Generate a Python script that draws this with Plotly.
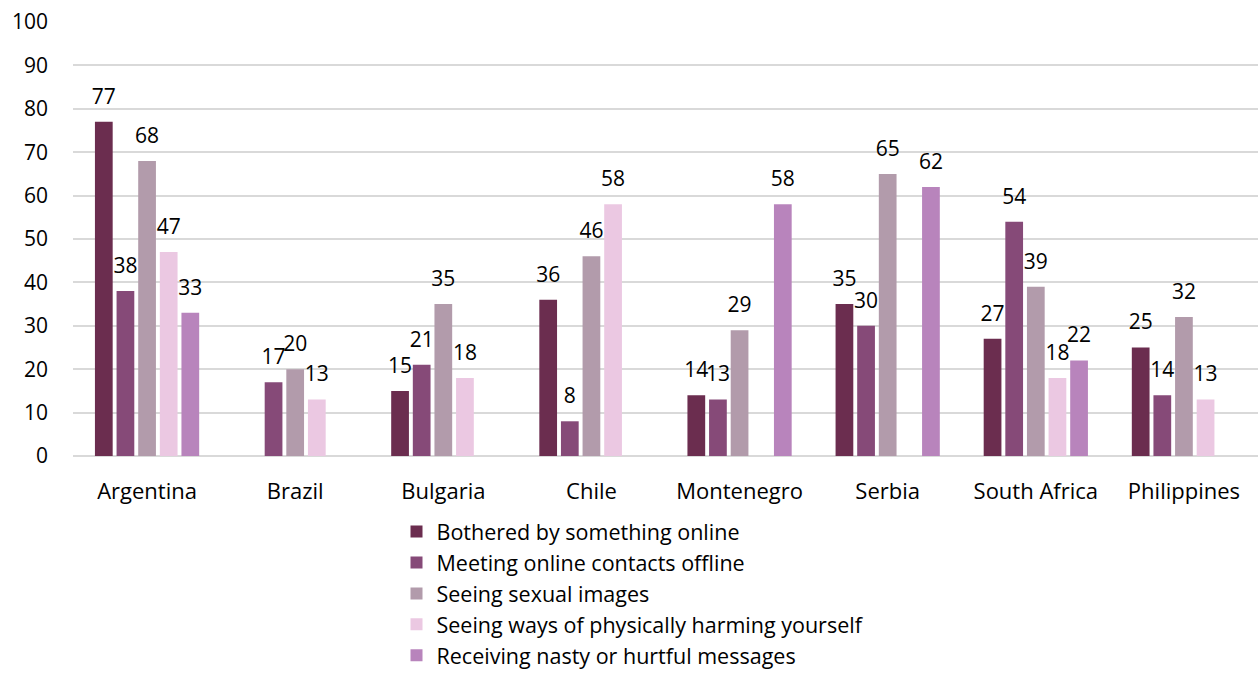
import plotly.graph_objects as go

countries = ["Argentina", "Brazil", "Bulgaria", "Chile", "Montenegro", "Serbia", "South Africa", "Philippines"]
series_names = [
    "Bothered by something online",
    "Meeting online contacts offline",
    "Seeing sexual images",
    "Seeing ways of physically harming yourself",
    "Receiving nasty or hurtful messages",
]
bothered = [77, None, 15, 36, 14, 35, 27, 25]
meeting = [38, 17, 21, 8, 13, 30, 54, 14]
sexual = [68, 20, 35, 46, 29, 65, 39, 32]
harming = [47, 13, 18, 58, None, None, 18, 13]
nasty = [33, None, None, None, 58, 62, 22, None]
colors = ["#6B2D4F", "#864A78", "#B29BAB", "#EBC8E2", "#B884BC"]

FONT = "Open Sans"
all_series = [bothered, meeting, sexual, harming, nasty]

fig = go.Figure()
for i, (name, vals, col) in enumerate(zip(series_names, all_series, colors)):
    fig.add_trace(go.Bar(
        x=countries, y=vals, name=name,
        marker=dict(color=col, line=dict(width=0)),
        offsetgroup=str(i), alignmentgroup="a",
    ))
for i, vals in enumerate(all_series):
    fig.add_trace(go.Scatter(
        x=countries, y=vals, mode="markers+text",
        text=[("" if v is None else str(v)) for v in vals],
        textposition="top center", cliponaxis=False,
        marker=dict(size=19, opacity=0),
        textfont=dict(size=21, color="#000000", family=FONT),
        offsetgroup=str(i), alignmentgroup="a",
        showlegend=False, hoverinfo="skip",
    ))

fig.update_layout(
    barmode="group", bargap=0.27, bargroupgap=0.18,
    scattermode="group", scattergap=0.27,
    width=1258, height=676,
    margin=dict(l=73, r=0, t=22, b=219),
    plot_bgcolor="white", paper_bgcolor="white",
    font=dict(family=FONT, size=21, color="#000000"),
    showlegend=True,
    legend=dict(x=0.273, y=-0.126, xanchor="left", yanchor="top",
                orientation="v", font=dict(size=21.5, family=FONT),
                traceorder="normal", itemwidth=30),
)
fig.update_yaxes(range=[0, 100], dtick=10, showgrid=True, gridcolor="#D9D9D9", gridwidth=1.5,
                 zeroline=True, zerolinecolor="#D9D9D9", zerolinewidth=1.5,
                 tickfont=dict(size=21), ticklabelstandoff=24, showline=False)
fig.update_xaxes(tickfont=dict(size=22), showline=False, ticklabelstandoff=20)

fig.write_html("out.html")
